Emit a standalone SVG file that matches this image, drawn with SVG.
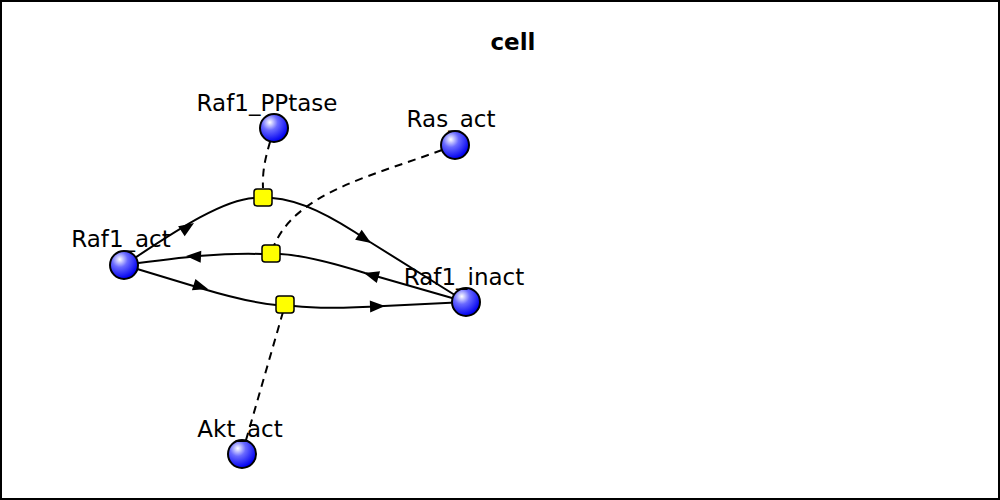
<svg xmlns="http://www.w3.org/2000/svg" xmlns:xlink="http://www.w3.org/1999/xlink" width="1000" height="500" viewBox="0 0 1000 500">
<style>
.edge{fill:none;stroke:#000;stroke-width:2}
.mod{fill:none;stroke:#000;stroke-width:2;stroke-dasharray:8,6}
.sp{fill:url(#g);stroke:#000;stroke-width:2}
.rx{fill:#ffff00;stroke:#000;stroke-width:1.5}
.lbl{font-family:"DejaVu Sans",sans-serif;font-size:23px;fill:#000;text-anchor:middle}
</style>
<defs>
<radialGradient id="g" cx="0.35" cy="0.3" r="0.7">
<stop offset="0" stop-color="#ffffff"/>
<stop offset="0.4" stop-color="#6a6aff"/>
<stop offset="1" stop-color="#0000f0"/>
</radialGradient>
<path id="ah" d="M0,0 L-15,-6 L-15,6 Z" fill="#000"/>
</defs>
<rect x="1" y="1" width="998" height="498" fill="#fff" stroke="#000" stroke-width="2"/>
<text x="513" y="50" font-family="DejaVu Sans,sans-serif" font-size="23" font-weight="bold" text-anchor="middle">cell</text>
<g id="connectors">
<path class="edge" d="M124,265 C170,235 220,200 254,198"/>
<path class="edge" d="M272,198 C300,200 330,215 370,242 L466,302"/>
<path class="edge" d="M466,302 L365,273 C330,262 300,255 280,254"/>
<path class="edge" d="M262,254 C220,253 190,256 124,265"/>
<path class="edge" d="M124,265 L200,288 C230,297 255,303 276,305"/>
<path class="edge" d="M294,306 C320,309 350,308 384,306 L466,302"/>
<path class="mod" d="M274,128 C268,150 262,165 263,188"/>
<path class="mod" d="M455,145 C380,175 290,190 271,254"/>
<path class="mod" d="M242,454 L285,305"/>
<use xlink:href="#ah" transform="translate(194,223) rotate(-33)"/>
<use xlink:href="#ah" transform="translate(371,243) rotate(33)"/>
<use xlink:href="#ah" transform="translate(364,273) rotate(196)"/>
<use xlink:href="#ah" transform="translate(186,256) rotate(183)"/>
<use xlink:href="#ah" transform="translate(208,289) rotate(17)"/>
<use xlink:href="#ah" transform="translate(385,306) rotate(-2)"/>
</g>
<g id="r1"><rect class="rx" x="254" y="189" width="18" height="17" rx="3"/></g>
<g id="r2"><rect class="rx" x="262" y="245" width="18" height="17" rx="3"/></g>
<g id="r3"><rect class="rx" x="276" y="296" width="18" height="17" rx="3"/></g>
<g id="Raf1_PPtase"><circle class="sp" cx="274" cy="128" r="14"/><text class="lbl" x="267" y="111">Raf1_PPtase</text></g>
<g id="Ras_act"><circle class="sp" cx="455" cy="145" r="14"/><text class="lbl" x="451" y="127">Ras_act</text></g>
<g id="Raf1_act"><circle class="sp" cx="124" cy="265" r="14"/><text class="lbl" x="121" y="247">Raf1_act</text></g>
<g id="Raf1_inact"><circle class="sp" cx="466" cy="302" r="14"/><text class="lbl" x="464" y="285">Raf1_inact</text></g>
<g id="Akt_act"><circle class="sp" cx="242" cy="454" r="14"/><text class="lbl" x="240" y="437">Akt_act</text></g>
</svg>
